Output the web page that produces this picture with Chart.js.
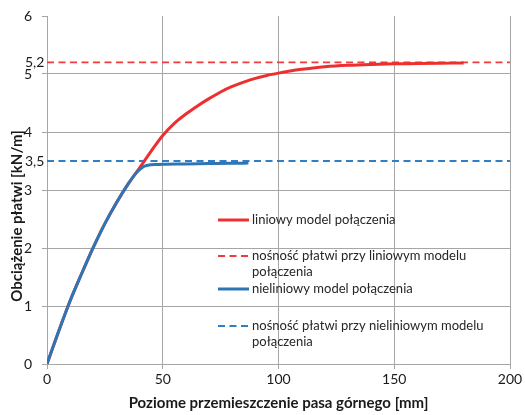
<!DOCTYPE html>
<html><head><meta charset="utf-8">
<script src="https://cdn.jsdelivr.net/npm/chart.js@4"></script>
<style>html,body{margin:0;padding:0;background:#fff}</style>
</head><body>
<canvas id="c" width="525" height="415"></canvas>
<script>
// ---- data ----
const dispLinear = [0,5,10,15,20,25,30,35,40,45,50,55,60,65,70,75,80,85,90,95,100,105,110,115,120,130,140,150,160,170,180];
const loadLinear = [0,0.56,1.09,1.56,2.01,2.42,2.78,3.10,3.38,3.67,3.94,4.15,4.31,4.45,4.575,4.69,4.785,4.86,4.925,4.975,5.015,5.05,5.08,5.105,5.125,5.15,5.165,5.175,5.18,5.185,5.19];
const dispNonlinear = [0,5,10,15,20,25,30,35,38,40,42,44,47,50,60,70,80,87];
const loadNonlinear = [0,0.56,1.09,1.56,2.01,2.42,2.78,3.10,3.27,3.35,3.41,3.43,3.44,3.445,3.45,3.455,3.46,3.465];
const limitLinear = 5.2;
const limitNonlinear = 3.5;
const xRange = [0, 200];
const xTicks = [0, 50, 100, 150, 200];
const yTicks = [0, 1, 2, 3, 4, 5, 6];
const yExtraTicks = [3.5, 5.2];
const seriesLabels = [
  ['liniowy model połączenia'],
  ['nośność płatwi przy liniowym modelu', 'połączenia'],
  ['nieliniowy model połączenia'],
  ['nośność płatwi przy nieliniowym modelu', 'połączenia']
];
const xTitle = 'Poziome przemieszczenie pasa górnego [mm]';
const yTitle = 'Obciążenie płatwi [kN/m]';

// ---- styles ----
const FONT = 'Lato, "Open Sans", sans-serif';
const RED = '#ee2f2f', RED_D = '#ef3b3b', BLUE = '#2e75b6', BLUE_D = '#2f7fc6';
const GRID = '#a6a6a6';
const TXT = '#1a1a1a';
const fmt = v => String(v).replace('.', ',');
const pts = (xs, ys) => xs.map((x, i) => ({x, y: ys[i]}));

const datasets = [
  {label: seriesLabels[0], data: pts(dispLinear, loadLinear), borderColor: RED, borderWidth: 3, order: 1},
  {label: seriesLabels[1], data: pts(xRange, [limitLinear, limitLinear]), borderColor: RED_D, borderWidth: 1.8, borderDash: [7, 4.5], order: 2},
  {label: seriesLabels[2], data: pts(dispNonlinear, loadNonlinear), borderColor: BLUE, borderWidth: 3, order: 0},
  {label: seriesLabels[3], data: pts(xRange, [limitNonlinear, limitNonlinear]), borderColor: BLUE_D, borderWidth: 1.8, borderDash: [7, 4.5], order: 3}
];

const inlineLegend = {
  id: 'inlineLegend',
  afterDatasetsDraw(chart) {
    const ctx = chart.ctx, a = chart.chartArea;
    const x0 = a.left + 171, x1 = a.left + 202, tx = a.left + 205;
    const rowY = [a.top + 204, a.top + 240, a.top + 273, a.top + 310];
    ctx.save();
    ctx.font = '13px ' + FONT;
    ctx.textBaseline = 'middle';
    ctx.fillStyle = '#262626';
    chart.data.datasets.forEach((ds, i) => {
      const y = rowY[i];
      ctx.beginPath();
      ctx.strokeStyle = ds.borderColor;
      ctx.lineWidth = ds.borderWidth;
      ctx.setLineDash(ds.borderDash || []);
      ctx.moveTo(x0, y); ctx.lineTo(x1, y); ctx.stroke();
      ctx.setLineDash([]);
      ds.label.forEach((line, k) => ctx.fillText(line, tx, y + k * 16));
    });
    ctx.restore();
  }
};

// y-axis title, placed (as in the reference) lower than the axis centre
const yAxisTitle = {
  id: 'yAxisTitle',
  afterDraw(chart) {
    const ctx = chart.ctx, a = chart.chartArea;
    ctx.save();
    ctx.translate(17, a.top + 200);
    ctx.rotate(-Math.PI / 2);
    ctx.font = 'bold 15px ' + FONT;
    ctx.fillStyle = TXT;
    ctx.textAlign = 'center';
    ctx.textBaseline = 'middle';
    ctx.fillText(yTitle, 0, 0);
    ctx.restore();
  }
};

new Chart(document.getElementById('c'), {
  type: 'line',
  data: {datasets},
  plugins: [inlineLegend, yAxisTitle],
  options: {
    responsive: false,
    animation: false,
    devicePixelRatio: 1,
    layout: {padding: {top: 16, right: 15, left: 0, bottom: 0}},
    elements: {point: {radius: 0}, line: {cubicInterpolationMode: 'monotone', fill: false}},
    plugins: {legend: {display: false}, tooltip: {enabled: false}},
    scales: {
      x: {
        type: 'linear', min: xRange[0], max: xRange[1],
        afterBuildTicks: s => { s.ticks = xTicks.map(v => ({value: v})); },
        ticks: {font: {family: FONT, size: 14}, color: TXT, padding: 2},
        grid: {color: GRID, tickColor: GRID, tickLength: 5, lineWidth: 1},
        border: {color: GRID},
        title: {display: true, text: xTitle, color: TXT, font: {family: FONT, size: 15, weight: 'bold'}, padding: {top: 2, bottom: 3}},
        afterFit: s => { s.height = 51; }
      },
      y: {
        type: 'linear', position: 'left', min: 0, max: 6, weight: 1,
        afterBuildTicks: s => { s.ticks = yTicks.map(v => ({value: v})); },
        ticks: {font: {family: FONT, size: 14}, color: TXT, padding: 3, callback: v => fmt(v)},
        grid: {display: false, drawTicks: false},
        border: {display: false},
        afterFit: s => { s.width = 35; }
      },
      y2: {
        type: 'linear', position: 'left', min: 0, max: 6, weight: 0,
        afterBuildTicks: s => { s.ticks = [...yTicks, ...yExtraTicks].sort((p, q) => p - q).map(v => ({value: v})); },
        ticks: {font: {family: FONT, size: 14}, color: TXT, mirror: true, crossAlign: 'near', padding: -22, autoSkip: false,
                callback: v => yExtraTicks.includes(v) ? fmt(v) : ''},
        grid: {
          color: c => (yExtraTicks.includes(c.tick.value) || c.tick.value === 6) ? 'rgba(0,0,0,0)' : GRID,
          tickColor: c => yExtraTicks.includes(c.tick.value) ? 'rgba(0,0,0,0)' : GRID,
          tickLength: 5, lineWidth: 1
        },
        border: {color: GRID},
        afterFit: s => { s.width = 12; }
      }
    }
  }
});
</script>
</body></html>
